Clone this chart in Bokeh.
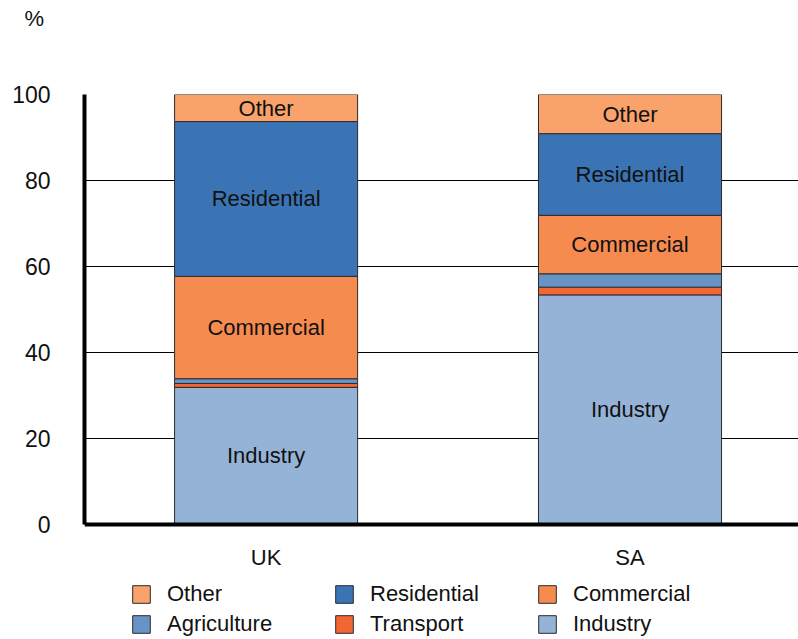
from bokeh.plotting import figure
from bokeh.models import (ColumnDataSource, FixedTicker, Legend, LegendItem, Span)
from bokeh.core.properties import value
from bokeh.embed import file_html
from bokeh.resources import INLINE

# ---- data (percent) ----
countries = ["UK", "SA"]
industry = [31.9, 53.4]
transport = [0.9, 1.8]
agriculture = [1.1, 3.1]
commercial = [23.8, 13.6]
residential = [36.0, 19.0]
other = [6.3, 9.1]

series_names = ["Industry", "Transport", "Agriculture", "Commercial", "Residential", "Other"]
series_vals = [industry, transport, agriculture, commercial, residential, other]
colors = {
    "Other": "#F9A26C",
    "Residential": "#3A74B4",
    "Commercial": "#F68B50",
    "Agriculture": "#6893C7",
    "Transport": "#F26633",
    "Industry": "#95B3D7",
}
labelled = ["Industry", "Commercial", "Residential", "Other"]
legend_order = ["Other", "Residential", "Commercial", "Agriculture", "Transport", "Industry"]
y_ticks = [0, 20, 40, 60, 80, 100]

FONT = "Liberation Sans"
xs = [i + 1 for i in range(len(countries))]

# layout: frame spans from the top of the value axis down to the page bottom,
# leaving room under the zero line for the category labels and the legend
PX_PER_UNIT = 4.3
BELOW_ZERO_PX = 115
y_start = -BELOW_ZERO_PX / PX_PER_UNIT

p = figure(width=798, height=639, output_backend="svg", toolbar_location=None,
           x_range=(0.501, 2.463), y_range=(y_start, 100),
           min_border_left=84, min_border_right=0, min_border_top=94, min_border_bottom=0)

renderers = {}
bottoms = [0.0] * len(countries)
for name, vals in zip(series_names, series_vals):
    tops = [b + v for b, v in zip(bottoms, vals)]
    src = ColumnDataSource(dict(x=xs, bottom=bottoms, top=tops))
    r = p.vbar(x="x", bottom="bottom", top="top", width=0.503, source=src,
               fill_color=colors[name], line_color="#2b2b2b", line_width=1)
    renderers[name] = r
    if name in labelled:
        mids = [(b + t) / 2 for b, t in zip(bottoms, tops)]
        tsrc = ColumnDataSource(dict(x=xs, y=mids, t=[name] * len(xs)))
        p.text(x="x", y="y", text="t", source=tsrc, text_align="center",
               text_baseline="middle", text_font=value(FONT),
               text_font_size="22px", text_color="#111111")
    bottoms = tops

# category labels under the zero line
csrc = ColumnDataSource(dict(x=xs, y=[0] * len(xs), t=countries))
p.text(x="x", y="y", text="t", source=csrc, text_align="center",
       text_baseline="middle", y_offset=33, text_font=value(FONT),
       text_font_size="22px", text_color="#111111")

# axes
p.xaxis.visible = False
p.yaxis.ticker = FixedTicker(ticks=y_ticks)
p.yaxis.bounds = (0, 100)
p.yaxis.axis_line_width = 4
p.yaxis.axis_line_color = "black"
p.yaxis.major_tick_line_color = None
p.yaxis.minor_tick_line_color = None
p.yaxis.major_label_text_font = FONT
p.yaxis.major_label_text_color = "#111111"
p.yaxis.major_label_text_font_size = "23px"
p.yaxis.major_label_standoff = 28

p.add_layout(Span(location=0, dimension="width", line_color="black", line_width=4))

p.xgrid.grid_line_color = None
p.ygrid.ticker = FixedTicker(ticks=y_ticks)
p.ygrid.grid_line_color = "black"
p.ygrid.grid_line_width = 1
p.ygrid.grid_line_alpha = 1
p.outline_line_color = None
p.background_fill_color = "white"
p.border_fill_color = "white"

# "%" unit label as title (extra blank lines lift it to the top of the page)
p.title.text = "%\n \n \n "
p.title.align = "left"
p.title.vertical_align = "bottom"
p.title.offset = -60
p.title.standoff = 0
p.title.text_line_height = 0.85
p.title.text_font = FONT
p.title.text_font_style = "normal"
p.title.text_font_size = "22px"
p.title.text_color = "#111111"

items = [LegendItem(label=n, renderers=[renderers[n]]) for n in legend_order]
legend = Legend(items=items, orientation="horizontal", ncols=3,
                location=(46, 2), glyph_width=22, glyph_height=22,
                label_standoff=15, label_width=162, label_height=22, spacing=4,
                label_text_font=FONT, label_text_font_size="22px",
                label_text_color="#111111", border_line_color=None,
                background_fill_alpha=0, padding=0, margin=0)
p.add_layout(legend, "center")

open("out.html", "w").write(file_html(p, INLINE))
